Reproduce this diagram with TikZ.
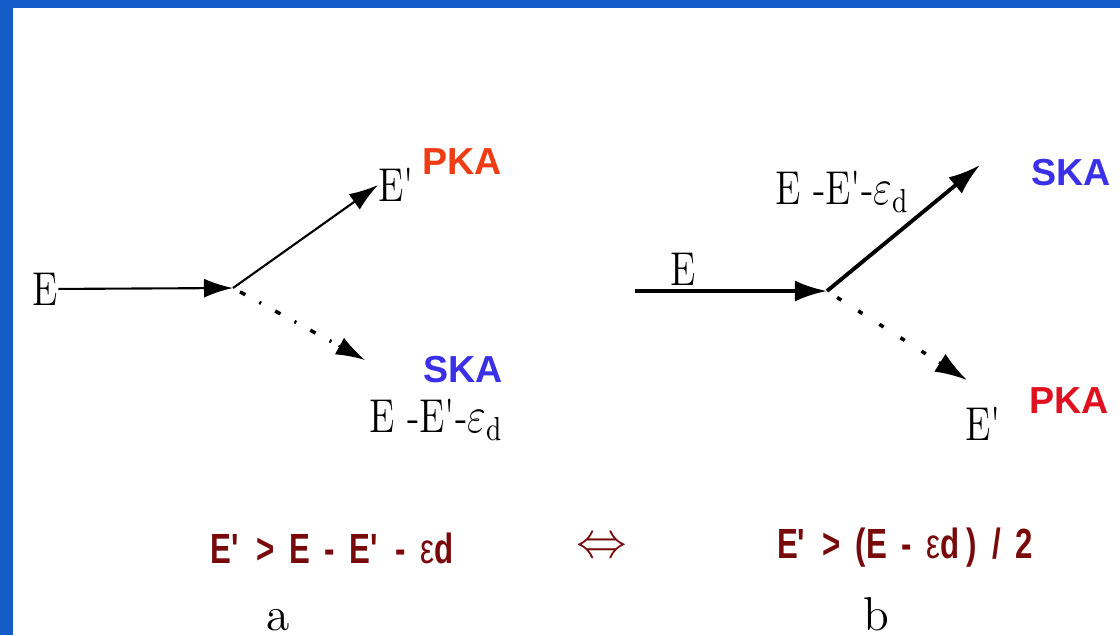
\documentclass[tikz,border=0pt]{standalone}
\usepackage{fontspec}
\usepackage{graphicx}
\usepackage{tikz}
\usetikzlibrary{arrows.meta, positioning, calc}
\newfontfamily\labelfont{Liberation Sans}
\newfontfamily\relfont[FakeStretch=0.74]{Liberation Sans}
\definecolor{frameblue}{RGB}{20,92,200}
\definecolor{pkaorange}{RGB}{240,60,20}
\definecolor{pkared}{RGB}{224,16,30}
\definecolor{skablue}{RGB}{58,48,232}
\definecolor{reldark}{RGB}{120,10,12}
\newcommand{\sq}[1]{\scalebox{0.8}[1]{#1}}
\newcommand{\pr}{\textquotesingle}
\newcommand{\gap}{\hspace{4.2pt}}

\begin{document}
\begin{tikzpicture}[x=0.01cm, y=-0.01cm,
    fig/.style={font=\fontsize{13.5}{14}\selectfont, inner sep=0pt},
    kind/.style={font=\labelfont\bfseries\fontsize{10.7}{12}\selectfont, inner sep=0pt},
    rel/.style={font=\relfont\bfseries\fontsize{12}{13}\selectfont, text=reldark, inner sep=0pt},
    thinarrow/.style={line width=0.6pt, -{Latex[length=2.9mm, width=1.9mm]}},
    thickarrow/.style={line width=1.1pt, -{Latex[length=3.2mm, width=2.1mm]}},
    dotarrow/.style={line width=1pt, dash pattern=on 0.06cm off 0.16cm on 0.02cm off 0.16cm}]
    \useasboundingbox (0,0) rectangle (1120,635);
    \fill[frameblue] (0,0) rectangle (13,635);
    \fill[frameblue] (0,0) rectangle (1120,8);
    % case a
    \node[fig] (inA) at (45,289) {\sq{E}};
    \coordinate (jA) at (233,288);
    \coordinate (tA) at (365,360);
    \node[fig, anchor=west] (outA) at (378,185) {\sq{E\pr}};
    \node[kind, text=pkaorange] (pkaA) at (462,162) {PKA};
    \node[kind, text=skablue] (skaA) at (463,370) {SKA};
    \node[fig] (secA) at (436,420) {\sq{E -E\pr-$\varepsilon_{\mathrm{d}}$}};
    \draw[thinarrow] (inA) -- (jA);
    \draw[thinarrow] (jA) -- (outA.west);
    \draw[dotarrow, shorten <=0.08cm, shorten >=0.25cm] (jA) -- (tA);
    \draw[-{Latex[length=2.9mm, width=1.9mm]}, line width=0.6pt] ($(jA)!0.8!(tA)$) -- (tA);
    % case b
    \coordinate (sB) at (635,291);
    \coordinate (jB) at (827,291);
    \coordinate (tB) at (980,165);
    \coordinate (uB) at (967,380);
    \draw[thickarrow] (sB) -- node[fig, pos=0.25, above=1pt] (inB) {\sq{E}} (jB);
    \draw[thickarrow] (jB) -- (tB);
    \draw[dotarrow, dash pattern=on 0.05cm off 0.2cm, shorten <=0.12cm, shorten >=0.3cm] (jB) -- (uB);
    \draw[-{Latex[length=3.2mm, width=2.1mm]}, line width=0.8pt] ($(jB)!0.8!(uB)$) -- (uB);
    \node[fig] (secB) at (842,192) {\sq{E -E\pr-$\varepsilon_{\mathrm{d}}$}};
    \node[kind, text=skablue] (skaB) at (1071,173) {SKA};
    \node[fig] (outB) at (983,424) {\sq{E\pr}};
    \node[kind, text=pkared] (pkaB) at (1069,401) {PKA};
    % condition
    \node[rel] (relA) at (332,548) {E\pr\gap>\gap E\gap-\gap E\pr\gap-\gap\textmd{ε}d};
    \node[rel, font=\fontsize{14}{14}\selectfont] (iff) at (602,548) {$\Leftrightarrow$};
    \node[rel] (relB) at (905,548) {E\pr\gap>\gap(E\gap-\gap\textmd{ε}d\,)\gap/\gap2};
    \node[fig] (labA) at (278,620) {a};
    \node[fig] (labB) at (876,614) {b};
\end{tikzpicture}
\end{document}
